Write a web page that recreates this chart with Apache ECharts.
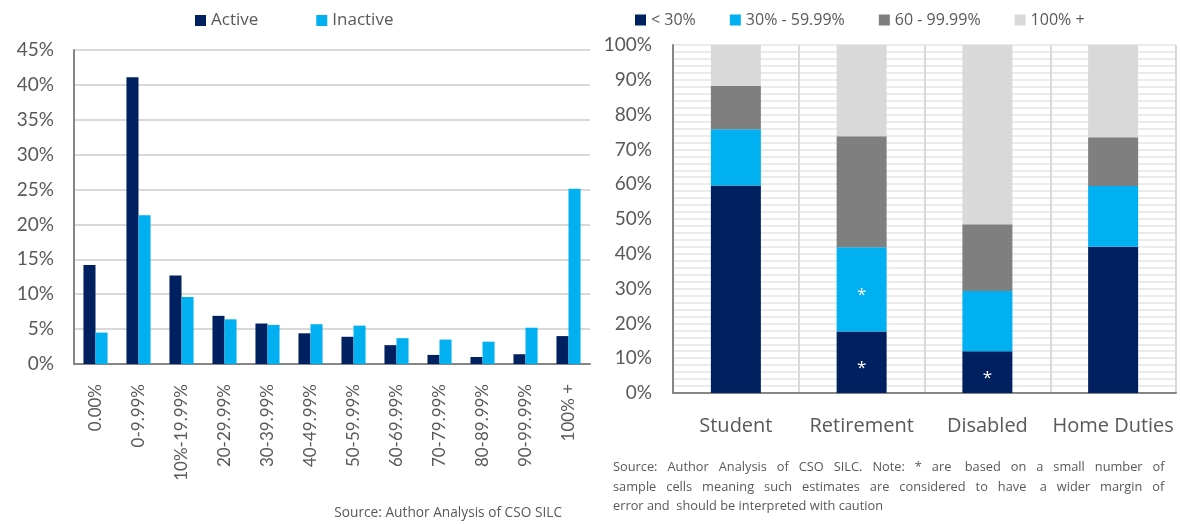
<!DOCTYPE html>
<html>
<head>
<meta charset="utf-8">
<script src="https://cdn.jsdelivr.net/npm/echarts@6/dist/echarts.min.js"></script>
<style>
  html, body { margin: 0; padding: 0; background: #fff; }
  #main { width: 1180px; height: 524px; }
</style>
</head>
<body>
<div id="main"></div>
<script>
// left chart: share by replacement rate band
var bands = ['0.00%', '0-9.99%', '10%-19.99%', '20-29.99%', '30-39.99%', '40-49.99%',
  '50-59.99%', '60-69.99%', '70-79.99%', '80-89.99%', '90-99.99%', '100% +'];
var active = [14.2, 41.1, 12.7, 6.9, 5.8, 4.4, 3.9, 2.7, 1.3, 1.0, 1.4, 4.0];
var inactive = [4.5, 21.3, 9.6, 6.4, 5.6, 5.7, 5.5, 3.7, 3.5, 3.2, 5.2, 25.1];

// right chart: stacked by inactive group
var groups = ['Student', 'Retirement', 'Disabled', 'Home Duties'];
var lt30 = [59.6, 17.7, 12.0, 42.0];
var r30to60 = [16.2, 24.2, 17.3, 17.5];
var r60to100 = [12.5, 31.9, 19.2, 14.0];
var r100plus = [11.7, 26.2, 51.5, 26.5];
// small sample flags (shown as *)
var flagLt30 = [false, true, true, false];
var flag30to60 = [false, true, false, false];

var NAVY = '#002060', CYAN = '#00B0F0', GREY = '#7F7F7F', LIGHT = '#D9D9D9';
var TXT = '#595959';
var FONT = 'Lato, sans-serif';
var WIDE = '"Open Sans", sans-serif';

function flagged(vals, flags) {
  return vals.map(function (v, i) {
    if (!flags[i]) return v;
    return { value: v, label: { show: true, formatter: '*', position: 'inside', offset: [0, 6],
      color: '#fff', fontSize: 17, fontFamily: WIDE } };
  });
}

var chart = echarts.init(document.getElementById('main'));
chart.setOption({
  animation: false,
  textStyle: { fontFamily: FONT },
  legend: [{
    data: ['Active', 'Inactive'],
    left: 190, top: 7,
    icon: 'rect', itemWidth: 11, itemHeight: 11, itemGap: 58,
    textStyle: { color: TXT, fontSize: 17, fontFamily: WIDE }
  }, {
    data: ['< 30%', '30% - 59.99%', '60 - 99.99%', '100% +'],
    left: 630, top: 7,
    icon: 'rect', itemWidth: 11, itemHeight: 11, itemGap: 34,
    textStyle: { color: TXT, fontSize: 16, fontFamily: WIDE }
  }],
  grid: [
    { left: 74, top: 50, width: 516, height: 314 },
    { left: 673, top: 45, width: 503, height: 348 }
  ],
  xAxis: [{
    type: 'category', gridIndex: 0, data: bands,
    axisLine: { lineStyle: { color: '#868686', width: 2 } },
    axisTick: { show: false },
    axisLabel: { rotate: 90, color: TXT, fontSize: 17, margin: 20, interval: 0 }
  }, {
    type: 'category', gridIndex: 1, data: groups,
    axisLine: { lineStyle: { color: '#868686', width: 2 } },
    axisTick: { show: false },
    axisLabel: { color: TXT, fontSize: 20, margin: 23, interval: 0, fontFamily: WIDE },
    splitLine: { show: true, interval: 0, lineStyle: { color: LIGHT, width: 2 } }
  }],
  yAxis: [{
    type: 'value', gridIndex: 0, min: 0, max: 45, interval: 5,
    axisLine: { show: true, lineStyle: { color: '#868686', width: 2 } },
    axisLabel: { formatter: '{value}%', color: TXT, fontSize: 19, margin: 20 },
    splitLine: { lineStyle: { color: LIGHT, width: 2 } }
  }, {
    type: 'value', gridIndex: 1, min: 0, max: 100, interval: 10,
    axisLine: { show: true, lineStyle: { color: '#868686', width: 2 } },
    axisLabel: { formatter: '{value}%', color: TXT, fontSize: 19, margin: 21 },
    splitLine: { lineStyle: { color: '#EBEBEB', width: 2 } },
    minorTick: { show: false, splitNumber: 5 },
    minorSplitLine: { show: true, lineStyle: { color: '#EBEBEB', width: 2 } }
  }],
  series: [
    { name: 'Active', type: 'bar', xAxisIndex: 0, yAxisIndex: 0, data: active,
      itemStyle: { color: NAVY }, barGap: '0%', barCategoryGap: '44%' },
    { name: 'Inactive', type: 'bar', xAxisIndex: 0, yAxisIndex: 0, data: inactive,
      itemStyle: { color: CYAN }, barGap: '0%', barCategoryGap: '44%' },
    { name: '< 30%', type: 'bar', stack: 'r', xAxisIndex: 1, yAxisIndex: 1,
      data: flagged(lt30, flagLt30), itemStyle: { color: NAVY }, barWidth: 50 },
    { name: '30% - 59.99%', type: 'bar', stack: 'r', xAxisIndex: 1, yAxisIndex: 1,
      data: flagged(r30to60, flag30to60), itemStyle: { color: CYAN }, barWidth: 50 },
    { name: '60 - 99.99%', type: 'bar', stack: 'r', xAxisIndex: 1, yAxisIndex: 1,
      data: r60to100, itemStyle: { color: GREY }, barWidth: 50 },
    { name: '100% +', type: 'bar', stack: 'r', xAxisIndex: 1, yAxisIndex: 1,
      data: r100plus, itemStyle: { color: LIGHT }, barWidth: 50 }
  ],
  graphic: [
    { type: 'text', right: 618, top: 506,
      style: { text: 'Source: Author Analysis of CSO SILC', fill: TXT, font: '13.7px ' + WIDE } },
    { type: 'text', left: 613, top: 461,
      style: { text: 'Source:   Author   Analysis   of   CSO   SILC.   Note:   *   are    based   on   a   small   number   of', fill: TXT, font: '12.8px ' + WIDE } },
    { type: 'text', left: 613, top: 481,
      style: { text: 'sample   cells   meaning   such   estimates   are   considered   to   have    a   wider   margin   of', fill: TXT, font: '12.8px ' + WIDE } },
    { type: 'text', left: 613, top: 500,
      style: { text: 'error and  should be interpreted with caution', fill: TXT, font: '12.8px ' + WIDE } }
  ]
});
</script>
</body>
</html>
